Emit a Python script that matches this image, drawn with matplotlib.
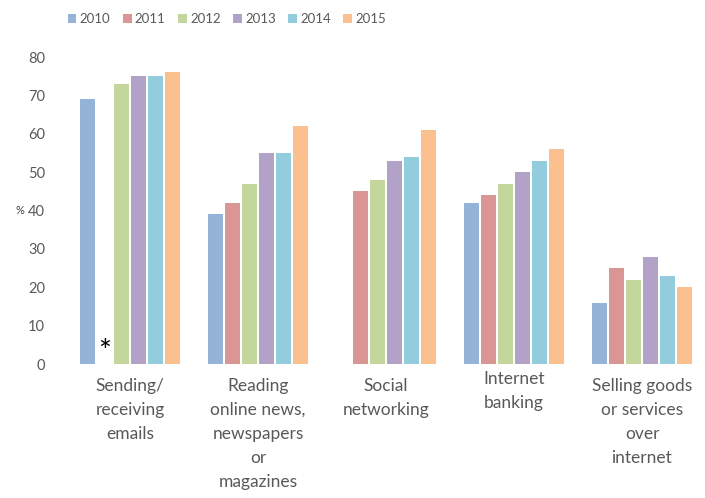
import numpy as np
import matplotlib.pyplot as plt

categories = ['Sending/\nreceiving\nemails',
              'Reading\nonline news,\nnewspapers\nor\nmagazines',
              'Social\nnetworking',
              'Internet\nbanking',
              'Selling goods\nor services\nover\ninternet']
years = ['2010', '2011', '2012', '2013', '2014', '2015']
v2010 = [69, 39, np.nan, 42, 16]
v2011 = [np.nan, 42, 45, 44, 25]
v2012 = [73, 47, 48, 47, 22]
v2013 = [75, 55, 53, 50, 28]
v2014 = [75, 55, 54, 53, 23]
v2015 = [76, 62, 61, 56, 20]
series = [v2010, v2011, v2012, v2013, v2014, v2015]
colors = ['#95B3D7', '#D99694', '#C3D69B', '#B3A2C7', '#93CDDD', '#FAC090']

plt.rcParams['font.family'] = ['Lato', 'DejaVu Sans']
grey = '#595959'

fig = plt.figure(figsize=(7.05, 4.98), dpi=100)
ax = fig.add_axes([66/705, 134/498, 640/705, 307/498])

x = np.arange(len(categories))
step = 0.133
width = 0.117
for i, (yr, vals, c) in enumerate(zip(years, series, colors)):
    ax.bar(x + (i - 2.5) * step, vals, width, color=c, label=yr)

# missing 2011 value for emails
ax.text(x[0] + (1 - 2.5) * step, -0.5, '*', ha='center', va='bottom', fontsize=22, color='black')

ax.set_xlim(-0.5, 4.5)
ax.set_ylim(0, 80)
ax.set_yticks(range(0, 81, 10))
ax.tick_params(axis='y', length=0, pad=15, labelsize=10.5, labelcolor=grey)
ax.set_xticks([])
for s in ax.spines.values():
    s.set_visible(False)

offsets = [-10, -10, -10, -5, -10]
for xi, lab, off in zip(x, categories, offsets):
    ax.annotate(lab, (xi, 0), xycoords='data', textcoords='offset points',
                xytext=(0, off), ha='center', va='top', fontsize=12.5,
                color=grey, linespacing=1.62)

fig.text(20/705, 1 - 211/498, '%', fontsize=8, color='#404040', ha='center', va='center')

fig.legend(loc='center', bbox_to_anchor=(227/705, 1 - 19/498), ncol=6, frameon=False,
           handlelength=0.65, handleheight=0.65, handletextpad=0.25, columnspacing=0.95,
           fontsize=9.5, labelcolor=grey)

fig.savefig('out.png')
